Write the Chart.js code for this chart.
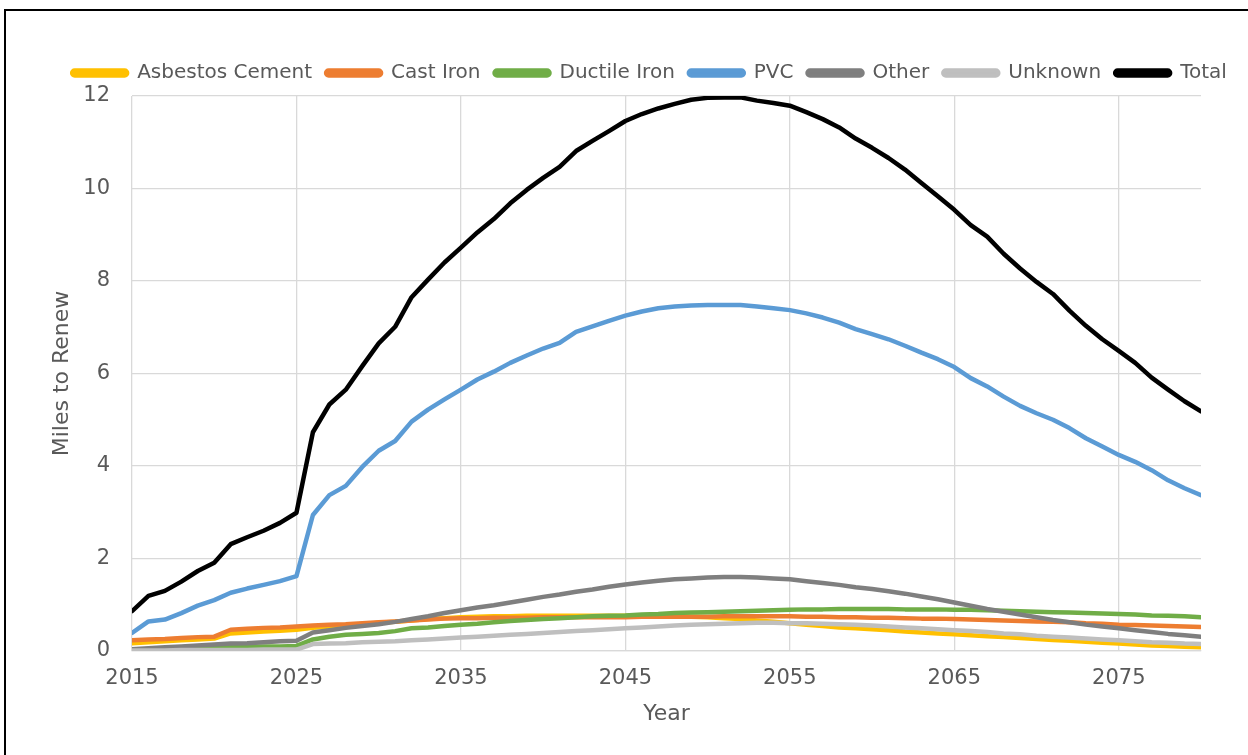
<!DOCTYPE html>
<html>
<head>
<meta charset="utf-8">
<script src="https://cdn.jsdelivr.net/npm/chart.js@4.4.1/dist/chart.umd.min.js"></script>
<style>
  html, body { margin: 0; padding: 0; background: #fff; }
  #frame {
    position: absolute; left: 4px; top: 9px; width: 1244px; height: 746px;
    border-left: 2px solid #000; border-top: 2px solid #000;
  }
  #wrap { position: absolute; left: 0; top: 0; width: 1242px; height: 744px; }
</style>
</head>
<body>
<div id="frame"><div id="wrap"><canvas id="renewChart"></canvas></div></div>
<script>
// miles of main to renew per year, by pipe material
const years = [
  2015, 2016, 2017, 2018, 2019, 2020, 2021, 2022, 2023, 2024, 2025,
  2026, 2027, 2028, 2029, 2030, 2031, 2032, 2033, 2034, 2035,
  2036, 2037, 2038, 2039, 2040, 2041, 2042, 2043, 2044, 2045,
  2046, 2047, 2048, 2049, 2050, 2051, 2052, 2053, 2054, 2055,
  2056, 2057, 2058, 2059, 2060, 2061, 2062, 2063, 2064, 2065,
  2066, 2067, 2068, 2069, 2070, 2071, 2072, 2073, 2074, 2075,
  2076, 2077, 2078, 2079, 2080
];

const asbestosCement = [
  0.17, 0.19, 0.21, 0.23, 0.25, 0.27, 0.38, 0.40, 0.42, 0.44, 0.46,
  0.50, 0.53, 0.56, 0.58, 0.61, 0.63, 0.66, 0.69, 0.71, 0.73,
  0.74, 0.75, 0.75, 0.76, 0.76, 0.76, 0.76, 0.76, 0.76, 0.76,
  0.76, 0.75, 0.75, 0.74, 0.73, 0.71, 0.69, 0.66, 0.63, 0.60,
  0.57, 0.54, 0.51, 0.49, 0.47, 0.45, 0.42, 0.40, 0.38, 0.36,
  0.34, 0.32, 0.30, 0.28, 0.26, 0.24, 0.22, 0.20, 0.18, 0.16,
  0.14, 0.12, 0.11, 0.09, 0.08
];
const castIron = [
  0.23, 0.25, 0.26, 0.28, 0.30, 0.31, 0.46, 0.48, 0.50, 0.51, 0.53,
  0.55, 0.57, 0.58, 0.60, 0.62, 0.64, 0.66, 0.68, 0.70, 0.71,
  0.71, 0.72, 0.72, 0.72, 0.73, 0.73, 0.73, 0.73, 0.73, 0.73,
  0.74, 0.74, 0.74, 0.74, 0.74, 0.75, 0.75, 0.75, 0.75, 0.75,
  0.74, 0.74, 0.73, 0.73, 0.72, 0.72, 0.71, 0.70, 0.70, 0.69,
  0.68, 0.67, 0.66, 0.65, 0.64, 0.63, 0.62, 0.60, 0.59, 0.57,
  0.56, 0.55, 0.54, 0.53, 0.52
];
const ductileIron = [
  0.02, 0.03, 0.04, 0.05, 0.06, 0.07, 0.08, 0.09, 0.10, 0.10, 0.11,
  0.25, 0.31, 0.35, 0.37, 0.39, 0.43, 0.49, 0.51, 0.54, 0.57,
  0.59, 0.62, 0.65, 0.67, 0.69, 0.71, 0.73, 0.75, 0.76, 0.77,
  0.79, 0.80, 0.82, 0.83, 0.84, 0.85, 0.86, 0.87, 0.88, 0.89,
  0.90, 0.90, 0.91, 0.91, 0.91, 0.91, 0.90, 0.90, 0.90, 0.89,
  0.89, 0.88, 0.87, 0.86, 0.85, 0.84, 0.83, 0.82, 0.81, 0.80,
  0.79, 0.77, 0.76, 0.75, 0.73
];
const pvc = [
  0.39, 0.64, 0.68, 0.82, 0.98, 1.10, 1.26, 1.35, 1.43, 1.51, 1.62,
  2.94, 3.37, 3.57, 3.98, 4.33, 4.54, 4.96, 5.22, 5.44, 5.65,
  5.87, 6.04, 6.23, 6.39, 6.54, 6.66, 6.90, 7.02, 7.14, 7.25,
  7.34, 7.41, 7.45, 7.47, 7.48, 7.48, 7.48, 7.45, 7.41, 7.37,
  7.30, 7.21, 7.10, 6.96, 6.85, 6.74, 6.60, 6.45, 6.31, 6.14,
  5.90, 5.72, 5.50, 5.30, 5.14, 5.00, 4.82, 4.60, 4.42, 4.24,
  4.09, 3.91, 3.69, 3.52, 3.37
];
const other = [
  0.04, 0.06, 0.08, 0.10, 0.12, 0.14, 0.16, 0.17, 0.19, 0.21, 0.22,
  0.40, 0.45, 0.50, 0.54, 0.58, 0.63, 0.69, 0.75, 0.82, 0.88,
  0.94, 0.99, 1.05, 1.11, 1.17, 1.22, 1.28, 1.33, 1.39, 1.44,
  1.48, 1.52, 1.55, 1.57, 1.59, 1.60, 1.60, 1.59, 1.57, 1.55,
  1.51, 1.47, 1.43, 1.38, 1.34, 1.29, 1.24, 1.18, 1.12, 1.05,
  0.98, 0.91, 0.85, 0.79, 0.73, 0.67, 0.62, 0.57, 0.53, 0.49,
  0.45, 0.41, 0.37, 0.34, 0.31
];
const unknown = [
  0.01, 0.01, 0.01, 0.02, 0.02, 0.02, 0.02, 0.02, 0.03, 0.03, 0.03,
  0.15, 0.16, 0.17, 0.19, 0.20, 0.21, 0.23, 0.25, 0.27, 0.29,
  0.31, 0.33, 0.35, 0.37, 0.39, 0.41, 0.43, 0.45, 0.47, 0.49,
  0.51, 0.53, 0.55, 0.57, 0.58, 0.59, 0.60, 0.61, 0.61, 0.60,
  0.60, 0.59, 0.58, 0.57, 0.55, 0.53, 0.51, 0.49, 0.47, 0.45,
  0.43, 0.41, 0.38, 0.36, 0.33, 0.31, 0.29, 0.27, 0.25, 0.23,
  0.21, 0.19, 0.18, 0.16, 0.15
];
const total = [
  0.86, 1.19, 1.30, 1.50, 1.73, 1.91, 2.31, 2.46, 2.60, 2.77, 2.99,
  4.73, 5.33, 5.65, 6.16, 6.65, 7.01, 7.65, 8.03, 8.40, 8.72,
  9.05, 9.34, 9.68, 9.97, 10.23, 10.47, 10.81, 11.03, 11.24, 11.46,
  11.61, 11.73, 11.83, 11.92, 11.96, 11.97, 11.97, 11.90, 11.85, 11.79,
  11.65, 11.50, 11.32, 11.08, 10.88, 10.66, 10.41, 10.12, 9.83, 9.54,
  9.21, 8.96, 8.59, 8.27, 7.98, 7.72, 7.36, 7.03, 6.74, 6.49,
  6.23, 5.91, 5.65, 5.40, 5.18
];

const seriesNames = ['Asbestos Cement', 'Cast Iron', 'Ductile Iron', 'PVC', 'Other', 'Unknown', 'Total'];
const seriesValues = [asbestosCement, castIron, ductileIron, pvc, other, unknown, total];
const seriesColors = ['#FFC000', '#ED7D31', '#70AD47', '#5B9BD5', '#7F7F7F', '#BFBFBF', '#000000'];

const xTicks = [2015, 2025, 2035, 2045, 2055, 2065, 2075];
const yTicks = [0, 2, 4, 6, 8, 10, 12];

const textColor = '#595959';
const gridColor = '#D9D9D9';
const fontFamily = '"DejaVu Sans", sans-serif';

const datasets = seriesNames.map((name, i) => ({
  label: name,
  data: years.map((yr, j) => ({ x: yr, y: seriesValues[i][j] })),
  borderColor: seriesColors[i],
  backgroundColor: seriesColors[i],
  borderWidth: 4.5,
  borderCapStyle: 'round',
  borderJoinStyle: 'round',
  pointRadius: 0,
  tension: 0,
  // later series sit on top
  order: seriesNames.length - i
}));

// nudge the legend row so it sits centred over the whole frame, a bit above the plot
const legendShift = {
  id: 'legendShift',
  afterLayout(chart) {
    const lg = chart.legend;
    lg.left += 46;
    lg.right += 46;
    lg.top -= 3;
    lg.bottom -= 3;
  }
};

new Chart(document.getElementById('renewChart'), {
  type: 'line',
  data: { datasets },
  plugins: [legendShift],
  options: {
    responsive: true,
    maintainAspectRatio: false,
    animation: false,
    layout: { padding: { left: 0, right: 47, top: 41, bottom: 0 } },
    plugins: {
      tooltip: { enabled: false },
      legend: {
        position: 'top',
        labels: {
          sort: (a, b) => a.datasetIndex - b.datasetIndex,
          boxWidth: 55,
          boxHeight: 5,
          useBorderRadius: true,
          borderRadius: 2.5,
          padding: 14,
          color: textColor,
          font: { family: fontFamily, size: 20 }
        }
      }
    },
    scales: {
      x: {
        type: 'linear',
        min: 2015,
        max: 2080,
        afterBuildTicks: (scale) => { scale.ticks = xTicks.map(v => ({ value: v })); },
        afterFit: (scale) => { scale.height = 104; },
        grid: { color: gridColor, lineWidth: 1.3, drawTicks: false },
        border: { color: gridColor, width: 1.3 },
        ticks: {
          padding: 15,
          color: textColor,
          font: { family: fontFamily, size: 21 },
          callback: (v) => String(v)
        },
        title: {
          display: true,
          text: 'Year',
          color: textColor,
          font: { family: fontFamily, size: 22 },
          padding: { top: 0, bottom: 28 }
        }
      },
      y: {
        min: 0,
        max: 12,
        afterBuildTicks: (scale) => { scale.ticks = yTicks.map(v => ({ value: v })); },
        afterFit: (scale) => { scale.width = 126; },
        grid: { color: gridColor, lineWidth: 1.3, drawTicks: false },
        border: { display: false },
        ticks: {
          padding: 22,
          color: textColor,
          font: { family: fontFamily, size: 21 }
        },
        title: {
          display: true,
          text: 'Miles to Renew',
          color: textColor,
          font: { family: fontFamily, size: 22 },
          padding: { top: 43, bottom: 0 }
        }
      }
    }
  }
});
</script>
</body>
</html>
